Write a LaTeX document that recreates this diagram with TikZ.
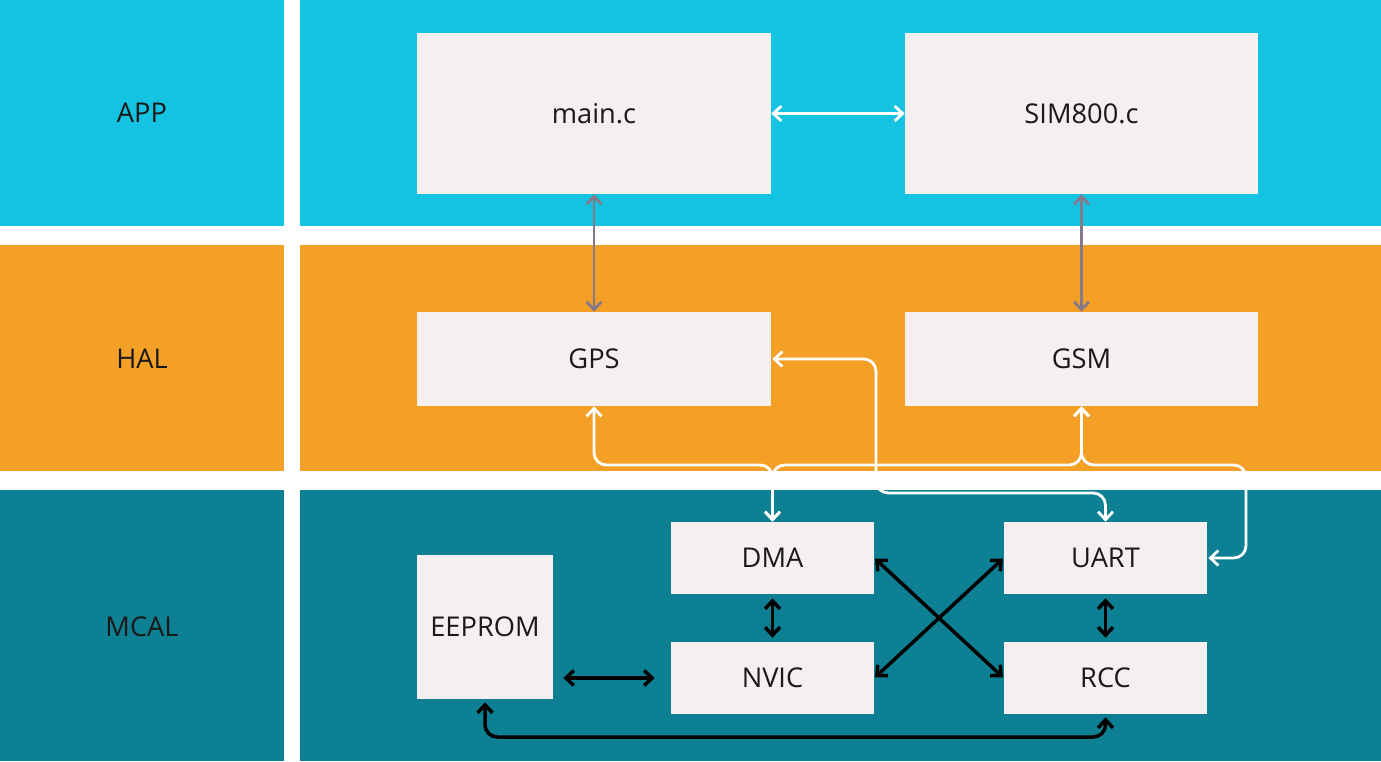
\documentclass[tikz,border=0pt]{standalone}
\usepackage{fontspec}
\setmainfont{Open Sans}
\usetikzlibrary{arrows.meta}
\definecolor{appcol}{HTML}{14C3E1}
\definecolor{halcol}{HTML}{F4A026}
\definecolor{mcalcol}{HTML}{0E8094}
\definecolor{boxcol}{HTML}{F5EFEF}
\definecolor{linkgray}{HTML}{857A8C}
\newlength\px \setlength\px{0.02cm}
\begin{document}
\begin{tikzpicture}[x=0.02cm,y=-0.02cm,>={Straight Barb[length=4.5pt,width=8.5pt]},
  blk/.style={fill=boxcol,inner sep=0pt,text=black!90,font=\fontsize{15.5}{18}\selectfont},
  lyr/.style={text=black!90,font=\fontsize{15.5}{18}\selectfont}]
\useasboundingbox (0,0) rectangle (1381,761);
\fill[white] (0,0) rectangle (1381,761);
% layer bands
\fill[appcol] (0,0) rectangle (284,226); \fill[appcol] (300,0) rectangle (1381,226);
\fill[halcol] (0,245) rectangle (284,471); \fill[halcol] (300,245) rectangle (1381,471);
\fill[mcalcol] (0,490) rectangle (284,761); \fill[mcalcol] (300,490) rectangle (1381,761);
\node[lyr] (app) at (142,113) {APP};
\node[lyr] (hal) at (142,359) {HAL};
\node[lyr] (mcal) at (142,627) {MCAL};
% modules
\node[blk,minimum width=354\px,minimum height=161\px] (main) at (594,113.5) {main.c};
\node[blk,minimum width=353\px,minimum height=161\px] (sim) at (1081.5,113.5) {SIM800.c};
\node[blk,minimum width=354\px,minimum height=94\px] (gps) at (594,359) {GPS};
\node[blk,minimum width=353\px,minimum height=94\px] (gsm) at (1081.5,359) {GSM};
\node[blk,minimum width=203\px,minimum height=72\px] (dma) at (772.5,558) {DMA};
\node[blk,minimum width=203\px,minimum height=72\px] (uart) at (1105.5,558) {UART};
\node[blk,minimum width=203\px,minimum height=72\px] (nvic) at (772.5,678) {NVIC};
\node[blk,minimum width=203\px,minimum height=72\px] (rcc) at (1105.5,678) {RCC};
\node[blk,minimum width=136\px,minimum height=144\px] (eeprom) at (485,627) {EEPROM};
\coordinate (jn) at (772.5,465);
\coordinate (rt) at (1246,465);
\coordinate (dn) at (876,493);
\coordinate (bus) at (0,737);
% app and hal links
\draw[<->,white,line width=1.6pt] (main) -- (sim);
\draw[<->,linkgray,line width=1.6pt] (main) -- (gps);
\draw[<->,linkgray,line width=1.6pt] (sim) -- (gsm);
\draw[<->,white,line width=1.6pt,rounded corners=7pt] (gps.south) |- (jn) -- (dma.north);
\draw[<->,white,line width=1.6pt,rounded corners=7pt] (gsm.south) |- (jn) -- (dma.north);
\draw[<->,white,line width=1.6pt,rounded corners=7pt,shorten >=1\px] (gsm.south) |- (rt) |- (uart.east);
\draw[<->,white,line width=1.6pt,rounded corners=7pt,shorten <=1\px] (gps.east) -| (dn) -| (uart.north);
% mcal links
\draw[<->,line width=2pt,shorten <=4\px,shorten >=4\px] (dma) -- (nvic);
\draw[<->,line width=2pt,shorten <=4\px,shorten >=4\px] (uart) -- (rcc);
\draw[<->,line width=2pt,shorten <=1\px,shorten >=1\px] (dma.east) -- (rcc.west);
\draw[<->,line width=2pt,shorten <=1\px,shorten >=1\px] (nvic.east) -- (uart.west);
\draw[<->,line width=2pt,shorten <=10\px,shorten >=16\px] (eeprom.east |- nvic.west) -- (nvic.west);
\draw[<->,line width=2pt,rounded corners=7pt,shorten <=3\px,shorten >=3\px] (eeprom.south) -- (eeprom.south |- bus) -| (rcc.south);
\end{tikzpicture}
\end{document}
